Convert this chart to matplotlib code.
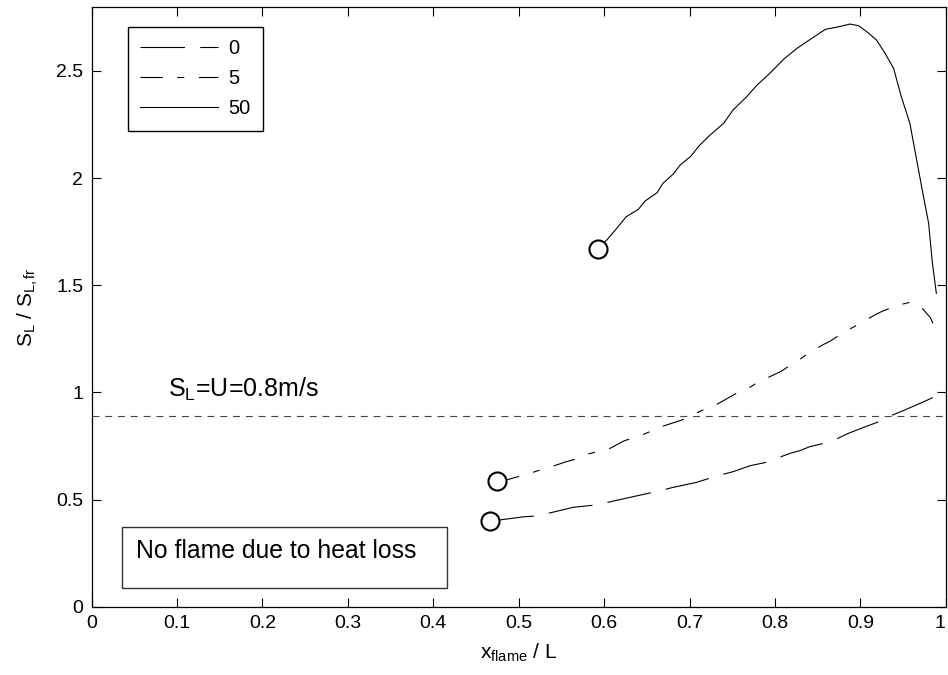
import matplotlib
matplotlib.use("Agg")
import matplotlib.pyplot as plt
from matplotlib.patches import Rectangle
from matplotlib.ticker import FuncFormatter

plt.rcParams['font.family'] = ['Liberation Sans', 'DejaVu Sans']
plt.rcParams['mathtext.fontset'] = 'custom'
plt.rcParams['mathtext.rm'] = 'Liberation Sans'
plt.rcParams['mathtext.it'] = 'Liberation Sans'
plt.rcParams['mathtext.default'] = 'regular'
plt.rcParams['lines.scale_dashes'] = False

# ---- data ----
labels = ['0', '5', '50']

x_0 = [0.466, 0.478, 0.507, 0.521, 0.538, 0.564, 0.591, 0.611, 0.630, 0.662,
       0.681, 0.708, 0.732, 0.751, 0.771, 0.788, 0.800, 0.818, 0.829, 0.841,
       0.857, 0.868, 0.886, 0.904, 0.919, 0.935, 0.952, 0.970, 0.989]
y_0 = [0.401, 0.405, 0.420, 0.423, 0.439, 0.464, 0.475, 0.493, 0.510, 0.538,
       0.557, 0.580, 0.610, 0.630, 0.658, 0.672, 0.689, 0.716, 0.728, 0.747,
       0.762, 0.775, 0.809, 0.837, 0.859, 0.890, 0.918, 0.949, 0.983]

x_5 = [0.475, 0.488, 0.513, 0.531, 0.538, 0.556, 0.570, 0.580, 0.599, 0.607,
       0.624, 0.642, 0.667, 0.691, 0.714, 0.732, 0.755, 0.769, 0.779, 0.796,
       0.808, 0.820, 0.829, 0.840, 0.857, 0.865, 0.880, 0.902, 0.919, 0.927,
       0.945, 0.958, 0.969, 0.982, 0.985]
y_5 = [0.587, 0.594, 0.622, 0.646, 0.653, 0.677, 0.692, 0.711, 0.731, 0.739,
       0.775, 0.797, 0.840, 0.871, 0.915, 0.944, 0.996, 1.019, 1.045, 1.077,
       1.100, 1.133, 1.154, 1.185, 1.224, 1.240, 1.279, 1.327, 1.366, 1.381,
       1.408, 1.420, 1.408, 1.349, 1.322]

x_50 = [0.593, 0.603, 0.613, 0.626, 0.640, 0.648, 0.662, 0.669, 0.681, 0.689,
        0.701, 0.712, 0.724, 0.740, 0.751, 0.767, 0.779, 0.794, 0.810, 0.826,
        0.839, 0.859, 0.872, 0.888, 0.898, 0.909, 0.919, 0.929, 0.939, 0.948,
        0.958, 0.966, 0.974, 0.980, 0.984, 0.989]
y_50 = [1.669, 1.711, 1.757, 1.820, 1.854, 1.893, 1.932, 1.976, 2.019, 2.061,
        2.100, 2.154, 2.201, 2.256, 2.318, 2.380, 2.434, 2.489, 2.554, 2.606,
        2.641, 2.694, 2.704, 2.719, 2.711, 2.679, 2.644, 2.582, 2.512, 2.380,
        2.256, 2.084, 1.913, 1.789, 1.618, 1.462]

u_line = 0.891
x_ticks = [0, 0.1, 0.2, 0.3, 0.4, 0.5, 0.6, 0.7, 0.8, 0.9, 1]
y_ticks = [0, 0.5, 1, 1.5, 2, 2.5]

# ---- figure ----
fig = plt.figure(figsize=(9.48, 6.75), dpi=100)
ax = fig.add_axes([0.0967, 0.1012, 0.9009, 0.8889])

lw = 0.8
l0, = ax.plot(x_0, y_0, color='black', lw=lw, dashes=(32, 11), label=labels[0])
l5, = ax.plot(x_5, y_5, color='black', lw=lw, dashes=(16, 10.5, 5, 10.5), label=labels[1])
l50, = ax.plot(x_50, y_50, color='black', lw=lw, label=labels[2])

for xs, ys in [(x_0, y_0), (x_5, y_5), (x_50, y_50)]:
    ax.plot(xs[0], ys[0], marker='o', markersize=13, markerfacecolor='white',
            markeredgecolor='black', markeredgewidth=1.5, linestyle='none', zorder=5)

ax.axhline(u_line, color='#444444', lw=0.8, dashes=(5, 4.2))

ax.text(0.089, 0.98, r'$S_L$=U=0.8m/s', fontsize=18, ha='left', va='baseline')

ax.add_patch(Rectangle((0.0351, 0.0887), 0.4157 - 0.0351, 0.373 - 0.0887,
                       fill=False, edgecolor='#333333', lw=1.0, zorder=3))
ax.text(0.0519, 0.261, 'No flame due to heat loss', fontsize=17.8,
        ha='left', va='center')

ax.set_xlim(0, 1)
ax.set_ylim(0, 2.8)
ax.set_xticks(x_ticks)
ax.set_yticks(y_ticks)
fmt = FuncFormatter(lambda v, p: '%g' % v)
ax.xaxis.set_major_formatter(fmt)
ax.yaxis.set_major_formatter(fmt)
ax.tick_params(direction='in', length=6.5, width=0.8, labelsize=14,
               top=True, right=True, pad=6)
for s in ax.spines.values():
    s.set_linewidth(0.9)

ax.set_xlabel(r'$x_{flame}$ / L', fontsize=15, labelpad=7)
ax.set_ylabel(r'$S_L$ / $S_{L,fr}$', fontsize=15, labelpad=12)

leg = ax.legend(handles=[l0, l5, l50], loc='upper left',
                bbox_to_anchor=(0.0422, 0.9657), borderaxespad=0,
                fontsize=14.5, handlelength=3.9, handletextpad=0.5,
                labelspacing=0.55, borderpad=0.6, fancybox=False,
                edgecolor='black', framealpha=1)
leg.get_frame().set_linewidth(1.0)

fig.canvas.draw()
xl = ax.get_xticklabels()
xl[-1].set_horizontalalignment('right')
xl[-1].set_x(1.0)

fig.savefig('out.png', dpi=100)
